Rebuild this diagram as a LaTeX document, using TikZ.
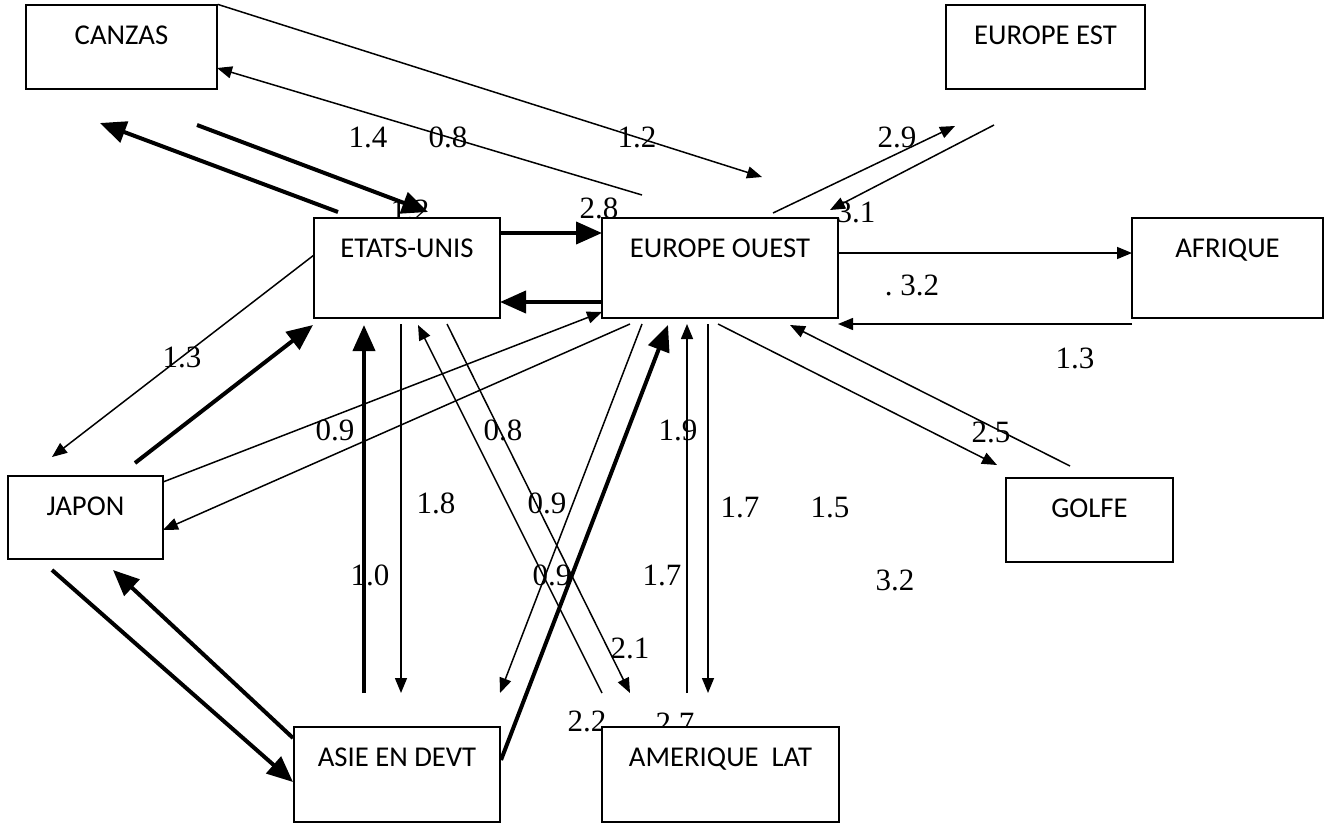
\documentclass[tikz,border=0pt]{standalone}
\usepackage{fontspec}
\newfontfamily\boxfont{Carlito}
\newfontfamily\numfont{Liberation Serif}
\usetikzlibrary{arrows.meta}
\pgfdeclarelayer{bg}
\pgfsetlayers{bg,main}
\begin{document}
\begin{tikzpicture}[x=1pt,y=-1pt,
  region/.style={draw, line width=1.3pt, fill=white, inner sep=0pt, text height=39pt,
    font=\boxfont\fontsize{28.7}{34}\selectfont, anchor=center},
  val/.style={font=\numfont\fontsize{31}{36}\selectfont, inner sep=0pt, anchor=center},
  flowthin/.style={line width=1.5pt, -{Triangle[length=15pt,width=12pt]}},
  flowthick/.style={line width=4pt, -{Triangle[length=26pt,width=22pt]}}
]
\useasboundingbox (0,0) rectangle (1327,830);
\begin{pgfonlayer}{bg}
\fill[white] (0,0) rectangle (1327,830);
\node[val] (l1) at (368,137) {1.4};
\node[val] (l2) at (448,137) {0.8};
\node[val] (l3) at (637,137) {1.2};
\node[val] (l4) at (897,137) {2.9};
\node[val] (l5) at (599,208) {2.8};
\node[val] (l6) at (410,210) {1.2};
\node[val] (l7) at (856,212) {3.1};
\node[val] (l8) at (912,285) {.\ 3.2};
\node[val] (l9) at (1075,358) {1.3};
\node[val] (l10) at (182,357) {1.3};
\node[val] (l11) at (335,430) {0.9};
\node[val] (l12) at (503,430) {0.8};
\node[val] (l13) at (678,430) {1.9};
\node[val] (l14) at (991,432) {2.5};
\node[val] (l15) at (436,503) {1.8};
\node[val] (l16) at (547,503) {0.9};
\node[val] (l17) at (740,507) {1.7};
\node[val] (l18) at (830,507) {1.5};
\node[val] (l19) at (370,575) {1.0};
\node[val] (l20) at (552,575) {0.9};
\node[val] (l21) at (662,575) {1.7};
\node[val] (l22) at (895,580) {3.2};
\node[val] (l23) at (630,648) {2.1};
\node[val] (l24) at (587,721) {2.2};
\node[val] (l25) at (675,723) {2.7};
\end{pgfonlayer}

% regions
\node[region, minimum width=191pt, text depth=45pt] (canzas) at (121.5,47) {CANZAS};
\node[region, minimum width=199pt, text depth=45pt] (est) at (1045.5,47) {EUROPE EST};
\node[region, minimum width=186pt, text depth=61pt] (us) at (407,268) {ETATS-UNIS};
\node[region, minimum width=236pt, text depth=61pt] (ouest) at (720,268) {EUROPE OUEST};
\node[region, minimum width=191pt, text depth=61pt] (afr) at (1227.5,268) {AFRIQUE};
\node[region, minimum width=155pt, text depth=44pt] (jap) at (85.5,517.5) {JAPON};
\node[region, minimum width=167pt, text depth=45pt] (golfe) at (1089.5,520) {GOLFE};
\node[region, minimum width=206pt, text depth=56pt] (asie) at (397,774.5) {ASIE EN DEVT};
\node[region, minimum width=237pt, text depth=56pt] (amlat) at (720.5,774.5) {AMERIQUE\ \ LAT};

% connector end points
\coordinate (c1) at (762,177);
\coordinate (c2s) at (642,195);   \coordinate (c2e) at (217,68);
\coordinate (c3s) at (338,212);   \coordinate (c3e) at (100,123);
\coordinate (c4s) at (197,125);   \coordinate (c4e) at (428,212);
\coordinate (c5s) at (500,233);   \coordinate (c5e) at (602,233);
\coordinate (c6s) at (602,302);   \coordinate (c6e) at (500,302);
\coordinate (c7s) at (773,213);   \coordinate (c7e) at (955,126);
\coordinate (c8s) at (994,125);   \coordinate (c8e) at (830,210);
\coordinate (c9s) at (838,253);   \coordinate (c9e) at (1132,253);
\coordinate (c10s) at (1132,324); \coordinate (c10e) at (838,324);
\coordinate (c11s) at (314,255);  \coordinate (c11e) at (52,457);
\coordinate (c12s) at (135,463);  \coordinate (c12e) at (313,325);
\coordinate (c13s) at (163,482);  \coordinate (c13e) at (602,312);
\coordinate (c14s) at (630,324);  \coordinate (c14e) at (163,530);
\coordinate (c15s) at (52,570);   \coordinate (c15e) at (293,782);
\coordinate (c16s) at (293,738);  \coordinate (c16e) at (113,570);
\coordinate (c17s) at (364,693);  \coordinate (c17e) at (364,325);
\coordinate (c18s) at (401,324);  \coordinate (c18e) at (401,693);
\coordinate (c19s) at (602,693);  \coordinate (c19e) at (418,325);
\coordinate (c20s) at (447,324);  \coordinate (c20e) at (630,693);
\coordinate (c21s) at (642,324);  \coordinate (c21e) at (500,693);
\coordinate (c22s) at (501,760);  \coordinate (c22e) at (668,325);
\coordinate (c23s) at (687,693);  \coordinate (c23e) at (687,324);
\coordinate (c24s) at (708,324);  \coordinate (c24e) at (708,693);
\coordinate (c25s) at (718,324);  \coordinate (c25e) at (997,465);
\coordinate (c26s) at (1070,466); \coordinate (c26e) at (790,325);

% connectors
\draw[flowthin] (canzas.north east) -- (c1);
\draw[flowthin] (c2s) -- (c2e);
\draw[flowthick] (c3s) -- (c3e);
\draw[flowthick] (c4s) -- (c4e);
\draw[flowthick] (c5s) -- (c5e);
\draw[flowthick] (c6s) -- (c6e);
\draw[flowthin] (c7s) -- (c7e);
\draw[flowthin] (c8s) -- (c8e);
\draw[flowthin] (c9s) -- (c9e);
\draw[flowthin] (c10s) -- (c10e);
\draw[flowthin] (c11s) -- (c11e);
\draw[flowthick] (c12s) -- (c12e);
\draw[flowthin] (c13s) -- (c13e);
\draw[flowthin] (c14s) -- (c14e);
\draw[flowthick] (c15s) -- (c15e);
\draw[flowthick] (c16s) -- (c16e);
\draw[flowthick] (c17s) -- (c17e);
\draw[flowthin] (c18s) -- (c18e);
\draw[flowthin] (c19s) -- (c19e);
\draw[flowthin] (c20s) -- (c20e);
\draw[flowthin] (c21s) -- (c21e);
\draw[flowthick] (c22s) -- (c22e);
\draw[flowthin] (c23s) -- (c23e);
\draw[flowthin] (c24s) -- (c24e);
\draw[flowthin] (c25s) -- (c25e);
\draw[flowthin] (c26s) -- (c26e);
\end{tikzpicture}
\end{document}
